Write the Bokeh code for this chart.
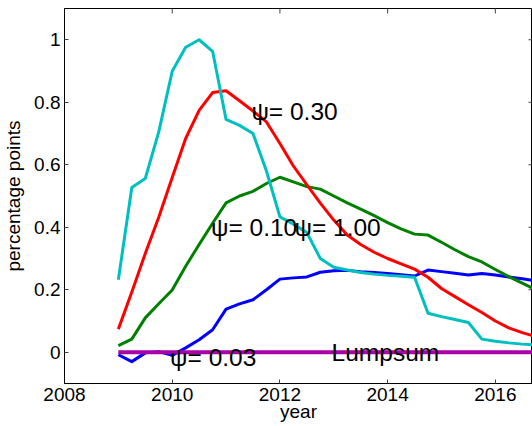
import math
from bokeh.plotting import figure
from bokeh.models import Range1d, FixedTicker, Label
from bokeh.embed import file_html
from bokeh.resources import INLINE

# quarterly dates 2009Q1 .. 2016Q4
years = [2009.00, 2009.25, 2009.50, 2009.75, 2010.00, 2010.25, 2010.50, 2010.75,
         2011.00, 2011.25, 2011.50, 2011.75, 2012.00, 2012.25, 2012.50, 2012.75,
         2013.00, 2013.25, 2013.50, 2013.75, 2014.00, 2014.25, 2014.50, 2014.75,
         2015.00, 2015.25, 2015.50, 2015.75, 2016.00, 2016.25, 2016.50, 2016.75]

psi_100 = [0.232, 0.527, 0.556, 0.705, 0.899, 0.976, 1.000, 0.963,
           0.745, 0.726, 0.700, 0.580, 0.433, 0.410, 0.383, 0.300,
           0.272, 0.263, 0.255, 0.250, 0.246, 0.243, 0.240, 0.125,
           0.114, 0.105, 0.095, 0.042, 0.035, 0.030, 0.026, 0.023]

psi_030 = [0.074, 0.193, 0.316, 0.432, 0.559, 0.684, 0.774, 0.831,
           0.837, 0.805, 0.772, 0.737, 0.668, 0.596, 0.536, 0.477,
           0.423, 0.375, 0.345, 0.320, 0.300, 0.283, 0.266, 0.240,
           0.204, 0.178, 0.152, 0.127, 0.100, 0.078, 0.063, 0.050]

psi_010 = [0.021, 0.042, 0.110, 0.155, 0.199, 0.275, 0.345, 0.413,
           0.478, 0.500, 0.515, 0.540, 0.560, 0.545, 0.530, 0.522,
           0.500, 0.478, 0.458, 0.437, 0.415, 0.395, 0.378, 0.375,
           0.352, 0.328, 0.306, 0.289, 0.265, 0.242, 0.221, 0.200]

psi_003 = [-0.008, -0.030, -0.002, 0.002, -0.010, 0.014, 0.040, 0.072,
           0.138, 0.155, 0.168, 0.200, 0.234, 0.238, 0.241, 0.256,
           0.261, 0.262, 0.258, 0.255, 0.252, 0.248, 0.244, 0.263,
           0.258, 0.253, 0.247, 0.252, 0.247, 0.241, 0.235, 0.229]

lumpsum = [0.0, 0.0, 0.0, 0.0, 0.0, 0.0, 0.0, 0.0,
           0.0, 0.0, 0.0, 0.0, 0.0, 0.0, 0.0, 0.0,
           0.0, 0.0, 0.0, 0.0, 0.0, 0.0, 0.0, 0.0,
           0.0, 0.0, 0.0, 0.0, 0.0, 0.0, 0.0, 0.0]

x_ticks = [2008, 2010, 2012, 2014, 2016]
y_ticks = [0, 0.2, 0.4, 0.6, 0.8, 1.0]
y_tick_labels = {0: "0", 0.2: "0.2", 0.4: "0.4", 0.6: "0.6", 0.8: "0.8", 1.0: "1"}

X_START, X_END = 2008, 2016.69
Y_START, Y_END = -0.1, 1.1

FONT = "Liberation Sans"
TICK_COLOR = "#444444"

p = figure(width=532, height=426, output_backend="svg", toolbar_location=None,
           x_range=Range1d(X_START, X_END), y_range=Range1d(Y_START, Y_END),
           min_border_left=60, min_border_right=0, min_border_top=8,
           min_border_bottom=43, background_fill_color="white",
           border_fill_color="white", outline_line_color="black")

p.xgrid.visible = False
p.ygrid.visible = False

for ax in (p.xaxis[0], p.yaxis[0]):
    ax.major_tick_in = 4
    ax.major_tick_out = 0
    ax.minor_tick_line_color = None
    ax.major_tick_line_color = TICK_COLOR
    ax.axis_line_color = "black"
    ax.major_label_text_font = FONT
    ax.major_label_text_font_size = "19px"
    ax.major_label_text_color = "black"
    ax.axis_label_text_font = FONT
    ax.axis_label_text_font_size = "19px"
    ax.axis_label_text_font_style = "normal"
    ax.axis_label_text_color = "black"
    ax.major_label_standoff = 4

p.xaxis[0].ticker = FixedTicker(ticks=x_ticks)
p.yaxis[0].ticker = FixedTicker(ticks=y_ticks)
p.yaxis[0].major_label_overrides = y_tick_labels
p.xaxis[0].axis_label = "year"
p.yaxis[0].axis_label = "percentage points"
p.xaxis[0].axis_label_standoff = -3
p.yaxis[0].axis_label_standoff = 7

# inward box ticks on the top and right edges (half of each dash is clipped by the frame)
p.scatter(x=x_ticks, y=Y_END, marker="dash", size=10, angle=math.pi / 2,
          line_color=TICK_COLOR, line_width=1)
p.scatter(x=X_END, y=y_ticks, marker="dash", size=8,
          line_color=TICK_COLOR, line_width=1)

lw = 3
p.line(years, psi_003, line_color="#0000FF", line_width=lw, line_join="round")
p.line(years, psi_010, line_color="#008000", line_width=lw, line_join="round")
p.line(years, psi_030, line_color="#FF0000", line_width=lw, line_join="round")
p.line(years, psi_100, line_color="#00BFBF", line_width=lw, line_join="round")
p.line(years, lumpsum, line_color="#AA00AA", line_width=4, line_join="round")

labels = [
    ("\u03c8= 0.30", 2011.47, 0.770),
    ("\u03c8= 0.10", 2010.72, 0.400),
    ("\u03c8= 1.00", 2012.27, 0.400),
    ("\u03c8= 0.03", 2009.96, -0.017),
    ("Lumpsum", 2012.96, 0.0),
]
for txt, lx, ly in labels:
    p.add_layout(Label(x=lx, y=ly, text=txt, text_font=FONT, text_font_size="24.5px",
                       text_baseline="middle", text_align="left", text_color="black"))

open("out.html", "w").write(file_html(p, INLINE))
